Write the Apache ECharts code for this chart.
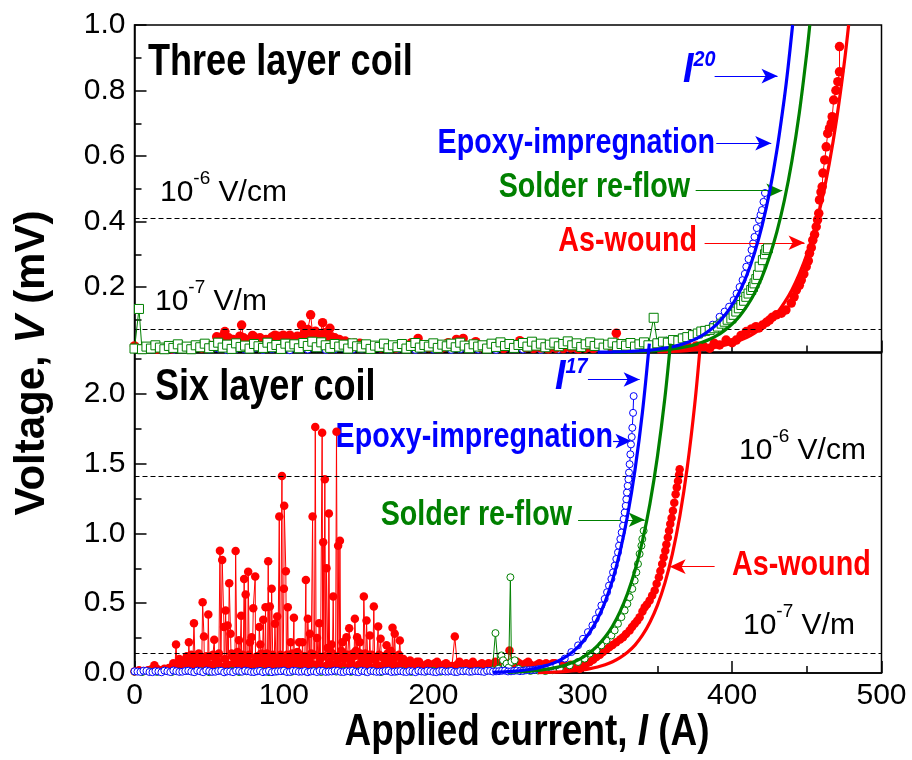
<!DOCTYPE html>
<html>
<head>
<meta charset="utf-8">
<script src="https://cdn.jsdelivr.net/npm/echarts@6/dist/echarts.min.js"></script>
<style>
html,body{margin:0;padding:0;background:#fff}
#chart{width:912px;height:760px}
</style>
</head>
<body>
<div id="chart"></div>
<script>
// ---------- axis ranges ----------
const currentRange = [0, 500];          // applied current, A
const currentStep = 100;
const threeVoltRange = [0, 1.0];        // mV, three layer coil
const threeVoltStep = 0.2;
const sixVoltRange = [0, 2.3];          // mV, six layer coil
const sixVoltStep = 0.5;

// criterion levels (mV): 1e-6 V/cm and 1e-7 V/m
const threeLevels = [0.405, 0.066];
const sixLevels = [1.405, 0.143];

// ---------- three layer coil: measured V-I ----------
const threeAsWoundMain = [
  [0,0.02],[5,0.012],[10,0.015],[15,0.01],[20,0.013],[25,0.011],[30,0.014],[35,0.012],[40,0.015],[45,0.013],
  [50,0.022],[55,0.048],[58,0.03],[60.5,0.064],[61.7,0.038],[64,0.02],[67,0.025],[69.4,0.038],[71.7,0.084],[74,0.03],
  [77,0.02],[80,0.048],[82.8,0.028],[86,0.018],[90,0.022],[94,0.053],[97,0.03],[99.5,0.053],[102,0.035],[104,0.053],
  [107,0.025],[110,0.035],[111.8,0.084],[112.9,0.053],[115,0.04],[117.9,0.115],[119.2,0.059],[122,0.04],[125.9,0.091],[128,0.045],
  [130.8,0.074],[131.9,0.048],[133.5,0.03],[135.3,0.038],[138,0.02],[143,0.03],[146,0.018],[150.8,0.028],[155,0.015],[160,0.02],
  [165,0.014],[170,0.018],[175,0.013],[180,0.02],[185.4,0.03],[189.8,0.043],[193,0.02],[197,0.015],[202,0.018],[206,0.014],
  [210,0.03],[213,0.025],[215.5,0.04],[218,0.035],[220,0.043],[223,0.02],[228.4,0.033],[232,0.015],[237,0.013],[242,0.016],
  [247,0.012],[252,0.02],[257.9,0.036],[262,0.015],[267,0.012],[272,0.014],[277,0.011],[282,0.013],[287,0.012],[292,0.014],
  [297,0.011],[302,0.013],[307,0.012],[312,0.014],[317,0.012],[322.5,0.059],[326,0.013],[331,0.012],[336,0.014],[341,0.013],
  [346,0.015],[351,0.014],[356,0.016],[361,0.015],[366,0.018],[371,0.016],[376,0.02],[381,0.018],[385,0.013],[388,0.028],
  [391.6,0.023],[396,0.038],[400,0.03],[402.8,0.038],[406,0.052],[409.5,0.064],[413,0.072],[416,0.079],[418,0.075],[420.4,0.084],
  [423,0.092],[425,0.099],[427,0.108],[429.6,0.115],[433,0.12],[436,0.13],[439.6,0.151],[441.5,0.17],[443,0.191],[445,0.205],
  [446.3,0.221],[448,0.24],[449.6,0.262],[451,0.28],[451.8,0.303],[453,0.32],[454,0.343],[455.2,0.36],[456.3,0.384],[457.2,0.405],
  [458,0.425],[458.5,0.466],[459.5,0.49],[460.3,0.506],[460.8,0.548],[462,0.588],[463,0.628],[464,0.669],[465.2,0.685],[466.4,0.70],
  [467,0.72],[468,0.771],[469.5,0.8],[470.8,0.827],[471.9,0.857],[471.9,0.934]
];
// extra low-level readings, three layer coil as-wound, 55-150 A
const threeAsWoundNoise = [
  [56.5,0.042],[59,0.05],[63,0.045],[66,0.04],[70.5,0.05],[73,0.045],[76,0.04],[79,0.052],[84,0.045],[88,0.04],
  [92,0.047],[96,0.05],[101,0.045],[106,0.04],[109,0.05],[114,0.06],[116,0.07],[121,0.065],[124,0.05],[127,0.06],
  [129,0.05],[134,0.045],[137,0.04],[141,0.035],[147,0.028]
];
const threeSolder = [
  [0,0.012],[3,0.133],[5,0.01],[8,0.018],[11,0.012],[14,0.022],[17,0.015],[20,0.01],[23,0.02],[26,0.014],
  [29,0.025],[32,0.012],[35,0.018],[38,0.01],[41,0.022],[44,0.016],[47,0.027],[50,0.013],[53,0.02],[56,0.03],
  [59,0.015],[62,0.024],[65,0.011],[68,0.028],[71,0.017],[74,0.021],[77,0.012],[80,0.026],[83,0.019],[86,0.014],
  [89,0.03],[92,0.016],[95,0.023],[98,0.011],[101,0.027],[104,0.018],[107,0.025],[110,0.013],[113,0.029],[116,0.02],
  [119,0.033],[122,0.016],[125,0.031],[128,0.022],[131,0.014],[134,0.026],[137,0.018],[140,0.024],[143,0.012],[146,0.028],
  [149,0.019],[152,0.015],[155,0.025],[158,0.011],[161,0.021],[164,0.017],[167,0.027],[170,0.013],[173,0.022],[176,0.016],
  [179,0.026],[182,0.012],[185,0.02],[188,0.029],[191,0.015],[194,0.023],[197,0.018],[200,0.028],[203,0.014],[206,0.024],
  [209,0.019],[212,0.027],[215,0.016],[218,0.03],[221,0.021],[224,0.013],[227,0.025],[230,0.018],[233,0.022],[236,0.012],
  [239,0.027],[242,0.017],[245,0.031],[248,0.02],[251,0.026],[254,0.014],[257,0.023],[260,0.029],[263,0.018],[266,0.033],
  [269,0.021],[272,0.027],[275,0.016],[278,0.024],[281,0.03],[284,0.019],[287,0.026],[290,0.034],[293,0.022],[296,0.028],
  [299,0.017],[302,0.025],[305,0.031],[308,0.02],[311,0.027],[314,0.015],[317,0.024],[320,0.03],[323,0.019],[326,0.026],
  [329,0.021],[332,0.029],[335,0.018],[338,0.025],[341,0.031],[344,0.022],[347.5,0.106],[350,0.028],[353.7,0.033],[357,0.03],
  [360.4,0.038],[364,0.036],[367,0.043],[370,0.047],[373.8,0.053],[377,0.058],[379.4,0.064],[382,0.066],[385,0.069],[388,0.074],
  [390.5,0.079],[393,0.088],[395,0.094],[397,0.1],[399.5,0.104],[401,0.115],[402.8,0.125],[404.5,0.135],[406.2,0.145],[408,0.158],
  [409.5,0.17],[411,0.18],[412.8,0.191],[414,0.2],[415,0.211],[416.2,0.224],[417.3,0.237],[418.4,0.262],[420.6,0.282],[422,0.3],
  [422.9,0.313],[424,0.318]
];
const threeEpoxy = [
  [0,0.02],[4,0.012],[8,0.018],[14,0.01],[20,0.015],[26,0.008],[32,0.012],[38,0.01],[44,0.014],[50,0.009],
  [56,0.012],[62,0.007],[68,0.011],[74,0.009],[80,0.013],[86,0.008],[92,0.01],[98,0.012],[104,0.007],[110,0.011],
  [116,0.009],[122,0.013],[128,0.008],[134,0.01],[140,0.012],[146,0.009],[152,0.011],[158,0.008],[164,0.012],[170,0.009],
  [176,0.01],[182,0.013],[188,0.008],[194,0.011],[200,0.009],[206,0.012],[212,0.008],[218,0.01],[224,0.012],[230,0.009],
  [236,0.011],[242,0.008],[248,0.012],[254,0.01],[260,0.009],[266,0.012],[272,0.008],[278,0.011],[284,0.009],[290,0.012],
  [296,0.01],[302,0.013],[308,0.011],[314,0.014],[320,0.012],[326,0.016],[332,0.018],[338,0.022],[344,0.026],[350,0.032],
  [356,0.036],[360,0.038],[366,0.046],[371.6,0.048],[377,0.06],[382.7,0.069],[387,0.085],[391.6,0.109],[395,0.125],[398,0.14],
  [401,0.16],[403,0.18],[405,0.2],[407,0.221],[408.5,0.24],[409.5,0.262],[411,0.285],[413,0.313],[414,0.333],[415,0.353],
  [416.5,0.38],[418,0.405],[419,0.42],[420,0.435],[421,0.46],[422,0.487]
];

// ---------- three layer coil: power-law fits (n = 20) ----------
const threeFitAsWound = [
  [350,0.002],[360,0.0034],[370,0.006],[380,0.0102],[385,0.0132],[390,0.0171],[395,0.022],[400,0.0284],[405,0.0364],
  [410,0.0464],[415,0.0593],[420,0.0753],[425,0.0953],[430,0.12],[435,0.152],[440,0.191],[445,0.24],[450,0.299],
  [455,0.373],[460,0.464],[465,0.576],[470,0.714],[475,0.881],[478,1.0]
];
const threeFitSolder = [
  [320,0.001],[330,0.0019],[340,0.0034],[345,0.0045],[350,0.006],[355,0.008],[360,0.0106],[365,0.0139],[370,0.0183],
  [375,0.0239],[380,0.031],[385,0.0404],[390,0.052],[395,0.0675],[400,0.0868],[405,0.111],[410,0.142],[415,0.181],
  [420,0.23],[425,0.292],[430,0.369],[435,0.465],[440,0.584],[445,0.732],[450,0.915],[452,1.0]
];
const threeFitEpoxy = [
  [310,0.0009],[320,0.0017],[330,0.0031],[335,0.0042],[340,0.0056],[345,0.0075],[350,0.01],[355,0.0134],[360,0.0177],
  [365,0.0233],[370,0.0306],[375,0.04],[380,0.052],[385,0.0676],[390,0.0876],[395,0.113],[400,0.145],[405,0.186],
  [410,0.238],[415,0.304],[420,0.386],[425,0.488],[430,0.618],[435,0.778],[437.5,0.872],[440.5,1.0]
];

// ---------- six layer coil: measured V-I ----------
const sixAsWoundPeaks = [
  [0,0.01],[3,0.02],[6,0.015],[9,0.02],[11,0.025],[13.3,0.055],[15,0.03],[17,0.02],[20,0.03],[23,0.035],
  [25.5,0.04],[27.8,0.205],[29,0.06],[31,0.04],[33,0.09],[34.5,0.07],[36.4,0.221],[37.5,0.1],[38.5,0.06],[39.8,0.357],
  [41,0.12],[42.5,0.05],[44,0.1],[45.6,0.507],[46.5,0.262],[47.5,0.08],[49.4,0.419],[50.5,0.12],[51.5,0.06],[53.4,0.238],
  [54.5,0.1],[56,0.07],[57.2,0.876],[58.7,0.81],[59.9,0.329],[61,0.448],[62.3,0.341],[63.4,0.643],[64.3,0.281],[65.5,0.12],
  [66.5,0.07],[67.7,0.874],[69,0.15],[69.9,0.234],[71.4,0.41],[72.3,0.13],[73.4,0.674],[74.4,0.562],[75.2,0.1],[76.1,0.726],
  [77.3,0.221],[78.4,0.257],[79.5,0.464],[80.8,0.691],[82,0.12],[83.5,0.329],[84.2,0.205],[85,0.08],[86.2,0.381],[87.7,0.471],
  [88.6,0.14],[89.5,0.8],[90.6,0.476],[91.8,0.603],[93,0.11],[94,0.353],[95.5,0.405],[96.9,1.121],[97.8,0.13],[98.7,1.412],
  [100,0.603],[100.2,1.198],[101.3,0.729],[102.6,0.471],[103.5,0.1],[104.5,0.221],[105.5,0.14],[106.7,0.396],[108,0.09],[109,0.15],
  [110.2,0.221],[111.3,0.12],[112.5,0.221],[113.5,0.08],[114.7,0.667],[116,0.388],[117.4,0.281],[118.3,0.14],[119.2,1.121],[120,0.06],
  [121,1.762],[122.2,0.25],[123.6,0.357],[124.5,0.1],[125.6,1.721],[126.3,0.936],[127.4,1.389],[128.5,0.75],[129.3,0.18],[130.1,1.143],
  [131.2,0.15],[131.9,0.205],[133,0.548],[134,0.12],[135.2,1.729],[136.3,0.912],[137.5,0.948],[138.4,0.16],[139.2,0.221],[140.5,0.1],
  [141.9,0.257],[142.8,0.13],[143.7,0.321],[145,0.08],[146.2,0.14],[147.5,0.388],[148.2,0.16],[149,0.257],[150.8,0.221],[152,0.11],
  [153.5,0.548],[154.4,0.14],[155.3,0.376],[156.4,0.09],[157.5,0.269],[158.8,0.13],[160.2,0.476],[161.5,0.1],[163.1,0.333],[164.7,0.245],
  [166,0.12],[167.5,0.07],[168.7,0.198],[170,0.11],[171.5,0.16],[172.7,0.324],[174.2,0.281],[175.5,0.12],[177.6,0.233],[179,0.08],
  [181,0.05],[183,0.07],[186,0.04],[189,0.08],[192,0.05],[195,0.06],[198,0.04],[201,0.07],[204,0.05],[207,0.06],
  [210,0.04],[212.5,0.05],[214.4,0.262],[216,0.06],[219,0.04],[222,0.07],[225,0.05],[228,0.04],[231,0.06],[234,0.05],
  [237,0.07],[240,0.05],[243,0.06],[246,0.08],[248.5,0.07],[251,0.162],[253,0.06],[256,0.08],[259,0.05],[262,0.07],
  [265,0.06],[268,0.05],[271,0.07],[274,0.06],[277,0.05],[280,0.07],[283,0.05],[286,0.06],[289,0.045],[292,0.06],
  [295,0.05],[298,0.03],[300.2,0.043],[302,0.06],[304.7,0.079],[307,0.095],[309.2,0.114],[311.5,0.13],[313.6,0.15],[316,0.17],
  [318,0.186],[320,0.2],[322.5,0.221],[325,0.24],[327,0.257],[329,0.28],[331.4,0.305],[333,0.33],[334.8,0.353],[336.5,0.375],
  [338.1,0.4],[340,0.44],[341.5,0.471],[343,0.49],[344.8,0.519],[346.5,0.555],[348.2,0.591],[349.5,0.64],[351,0.686],[352,0.73],
  [353.2,0.781],[354.2,0.83],[355.3,0.876],[356,0.92],[357,0.971],[357.8,1.02],[358.6,1.067],[359.5,1.11],[360.4,1.162],[361.3,1.22],
  [362.2,1.281],[363,1.33],[363.8,1.376],[364.5,1.42],[364.9,1.46]
];
// readings in the noisy band of the as-wound six layer coil
const sixAsWoundBand = [
  [26,0.07],[28.5,0.05],[30,0.1],[32,0.06],[35,0.12],[36,0.05],[38,0.13],[40.5,0.08],[43,0.14],[45,0.06],
  [48,0.12],[50,0.04],[52.5,0.13],[55,0.09],[56.5,0.14],[60.5,0.1],[62.8,0.06],[65,0.14],[66,0.04],[68.5,0.11],
  [70.5,0.06],[72.8,0.1],[74.8,0.05],[76.8,0.13],[78,0.07],[81.5,0.09],[84.8,0.14],[86.8,0.05],[88,0.1],[90,0.07],
  [92.5,0.13],[94.8,0.06],[96,0.1],[99.5,0.08],[102,0.13],[104,0.05],[106,0.1],[107.5,0.04],[110.8,0.13],[112,0.07],
  [114,0.12],[115.5,0.05],[117,0.1],[120.5,0.13],[123,0.06],[126.8,0.12],[128,0.05],[130.6,0.08],[132.5,0.14],[134.6,0.06],
  [137,0.1],[139.8,0.05],[141,0.13],[144.3,0.1],[145.6,0.05],[147,0.12],[150,0.06],[151.3,0.14],[153,0.08],[156,0.13],
  [157,0.05],[159.5,0.1],[162,0.06],[163.8,0.13],[165.5,0.05],[167,0.1],[169.4,0.14],[171,0.06],[173.5,0.1],[176,0.05],
  [177,0.13],[178.3,0.06],[180,0.1],[182,0.04],[184.5,0.09],[187.5,0.05],[190.5,0.08],[193.5,0.04],[196.5,0.07],[199.5,0.05],
  [202.5,0.08],[205.5,0.04],[208.5,0.07],[211,0.05],[217.5,0.08],[220.5,0.05],[223.5,0.06],[226.5,0.08],[229.5,0.05],[232.5,0.07],
  [235.5,0.04],[238.5,0.06],[241.5,0.08],[244.5,0.05],[247,0.06],[249.5,0.04],[254.5,0.05],[257.5,0.07],[260.5,0.05],[263.5,0.08],
  [266.5,0.05],[269.5,0.06],[272.5,0.04],[275.5,0.07],[278.5,0.05],[281.5,0.07],[284.5,0.05],[287.5,0.06],[290.5,0.04],[293.5,0.05],
  [296.5,0.04]
];
const sixAsWoundFloor = [
  [27,0.03],[29.5,0.025],[31.5,0.035],[33.5,0.03],[36.8,0.04],[39,0.03],[41.5,0.035],[44.5,0.04],[46.8,0.03],[49,0.045],
  [51,0.035],[53.8,0.04],[57.8,0.03],[60,0.045],[61.8,0.035],[64.8,0.04],[67.2,0.03],[69.5,0.05],[71.8,0.035],[74,0.04],
  [75.8,0.045],[78.8,0.03],[81,0.04],[83,0.035],[85.5,0.045],[87.2,0.03],[89,0.04],[91.2,0.035],[93.5,0.045],[95.2,0.03],
  [97.3,0.04],[99,0.035],[101.7,0.045],[103,0.03],[105,0.04],[107,0.035],[109.5,0.045],[111.8,0.03],[113,0.04],[115,0.035],
  [117.8,0.045],[119.7,0.03],[121.6,0.04],[124,0.035],[126,0.045],[129.8,0.035],[131.6,0.04],[133.5,0.03],[135.8,0.045],[138,0.035],
  [140,0.04],[142.3,0.03],[144.8,0.045],[146.8,0.035],[149.6,0.04],[152.5,0.03],[154.9,0.045],[158.2,0.035],[160.8,0.04],[163.2,0.03],
  [166.5,0.045],[168.2,0.035],[170.6,0.04],[172.2,0.03],[174.8,0.045],[176.6,0.035],[178.7,0.04]
];
const sixSolder = [
  [0,0.01],[5,0.006],[10,0.012],[15,0.008],[20,0.014],[25,0.007],[30,0.011],[35,0.015],[40,0.008],[45,0.012],
  [50,0.006],[55,0.013],[60,0.009],[65,0.015],[70,0.007],[75,0.012],[80,0.01],[85,0.014],[90,0.006],[95,0.011],
  [100,0.015],[105,0.008],[110,0.013],[115,0.009],[120,0.014],[125,0.007],[130,0.012],[135,0.01],[140,0.015],[145,0.008],
  [150,0.013],[155,0.009],[160,0.012],[165,0.007],[170,0.014],[175,0.01],[180,0.012],[185,0.008],[190,0.013],[195,0.01],
  [200,0.015],[205,0.009],[210,0.012],[215,0.008],[220,0.014],[225,0.011],[230,0.016],[235,0.012],[239.5,0.02],[241.6,0.286],
  [243.5,0.03],[245.6,0.126],[246.7,0.091],[248,0.05],[249,0.067],[250.5,0.04],[251.6,0.686],[252.3,0.079],[254.5,0.091],[257,0.03],
  [261,0.02],[265,0.015],[270,0.018],[275,0.014],[280,0.02],[284.6,0.031],[291.3,0.055],[296.9,0.079],[301.3,0.103],[304.7,0.139],
  [309.2,0.162],[312.5,0.198],[315.9,0.233],[319.2,0.269],[321.4,0.305],[323.6,0.353],[325.9,0.4],[328.1,0.448],[329.9,0.496],[331.4,0.543],
  [333.2,0.603],[334.8,0.662],[335.9,0.721],[337,0.781],[338.1,0.853],[339.3,0.912],[339.9,0.96],[340.8,1.019]
];
const sixEpoxyRise = [
  [0,0.012],[4,0.008],[8,0.015],[12,0.006],[16,0.011],[20,0.017],[24,0.007],[28,0.013],[32,0.009],[36,0.016],
  [40,0.006],[44,0.012],[48,0.018],[52,0.008],[56,0.014],[60,0.005],[64,0.011],[68,0.016],[72,0.009],[76,0.013],
  [80,0.007],[84,0.015],[88,0.01],[92,0.006],[96,0.012],[100,0.017],[104,0.008],[108,0.014],[112,0.01],[116,0.006],
  [120,0.013],[124,0.016],[128,0.008],[132,0.011],[136,0.015],[140,0.007],[144,0.012],[148,0.009],[152,0.016],[156,0.006],
  [160,0.013],[164,0.01],[168,0.015],[172,0.007],[176,0.012],[180,0.009],[184,0.014],[188,0.006],[192,0.011],[196,0.016],
  [200,0.008],[204,0.013],[208,0.01],[212,0.015],[216,0.007],[220,0.012],[224,0.009],[228,0.014],[232,0.011],[236,0.016],
  [240,0.01],[244,0.013],[248,0.017],[252,0.012],[256,0.018],[260,0.015],[264,0.02],[268,0.024],[272,0.03],[276,0.038],
  [279,0.046],[282.4,0.055],[288,0.103],[292.4,0.15],[296.9,0.198],[300.2,0.245],[303.5,0.293],[306.5,0.341],[308.7,0.388],[310.9,0.436],
  [312.5,0.484],[314.7,0.531],[316.3,0.579],[317.6,0.626],[319.2,0.674],[320.3,0.721],[321.4,0.769],[322.5,0.817],[323.6,0.864],[324.3,0.912],
  [325.2,0.96],[326.1,1.007],[327,1.055],[327.4,1.103],[328.1,1.15],[328.8,1.198],[329.2,1.245],[329.6,1.293],[330.1,1.341],[330.6,1.388],
  [331,1.436],[331.4,1.496],[331.9,1.567],[332.3,1.638],[332.8,1.691],[333.2,1.757],[333.7,1.864],[334.1,1.984]
];
// intermediate readings in the baseline of the epoxy-impregnated six layer coil
const sixEpoxyBase = [
  [2,0.01],[6,0.016],[10,0.007],[14,0.013],[18,0.005],[22,0.012],[26,0.018],[30,0.008],[34,0.014],[38,0.01],
  [42,0.017],[46,0.006],[50,0.013],[54,0.009],[58,0.016],[62,0.011],[66,0.006],[70,0.014],[74,0.017],[78,0.008],
  [82,0.012],[86,0.006],[90,0.015],[94,0.01],[98,0.013],[102,0.007],[106,0.016],[110,0.009],[114,0.014],[118,0.011],
  [122,0.007],[126,0.015],[130,0.01],[134,0.017],[138,0.008],[142,0.013],[146,0.016],[150,0.006],[154,0.012],[158,0.015],
  [162,0.008],[166,0.011],[170,0.016],[174,0.01],[178,0.014],[182,0.007],[186,0.012],[190,0.016],[194,0.009],[198,0.013],
  [202,0.006],[206,0.015],[210,0.011],[214,0.008],[218,0.014],[222,0.016],[226,0.01],[230,0.013],[234,0.008],[238,0.015],
  [242,0.012],[246,0.016],[250,0.011],[254,0.015],[258,0.013],[262,0.019],[266,0.021],[270,0.027],[274,0.034]
];

// ---------- six layer coil: power-law fits ----------
const sixFitAsWound = [
  [270,0.0027],[280,0.0056],[285,0.008],[290,0.0113],[295,0.0159],[300,0.0222],[305,0.031],[310,0.0429],[315,0.0589],
  [320,0.0808],[325,0.11],[330,0.149],[335,0.2],[340,0.271],[345,0.364],[350,0.485],[355,0.644],[360,0.852],
  [365,1.123],[370,1.474],[375,1.926],[378.8,2.36]
];
const sixFitSolder = [
  [250,0.0051],[260,0.0099],[265,0.0137],[270,0.0188],[275,0.0257],[280,0.035],[285,0.0471],[290,0.0634],[295,0.0847],
  [300,0.1127],[305,0.149],[310,0.197],[315,0.258],[320,0.337],[325,0.44],[330,0.57],[335,0.735],[340,0.947],
  [345,1.213],[350,1.55],[355,1.97],[358.7,2.36]
];
const sixFitEpoxy = [
  [240,0.005],[250,0.01],[255,0.0141],[260,0.0196],[265,0.027],[270,0.037],[275,0.0508],[280,0.0689],[285,0.0932],
  [290,0.125],[295,0.167],[300,0.223],[305,0.296],[310,0.389],[315,0.51],[320,0.667],[325,0.87],[330,1.127],
  [335,1.454],[340,1.87],[344.6,2.36]
];

// ---------- annotation arrows (data coordinates: [from, to]) ----------
const threeArrows = {
  exponent: [[388.3,0.844],[430.4,0.844]],
  epoxy:    [[389.4,0.639],[426.2,0.639]],
  solder:   [[375.6,0.494],[433.6,0.494]],
  asWound:  [[381.6,0.335],[448.5,0.335]]
};
const sixArrows = {
  exponent: [[303.5,2.103],[338.1,2.103]],
  epoxy:    [[320.3,1.662],[332.6,1.662]],
  solder:   [[296.9,1.098],[341.5,1.098]],
  asWound:  [[388.3,0.762],[358.2,0.762]]
};

// ---------- styling ----------
const RED = '#ff0000', GREEN = '#008000', BLUE = '#0000ff';
const SANS = "'Liberation Sans', Arial, sans-serif";
const AXIS_COLOR = '#000';
const CONDENSE = 0.82;   // horizontal squeeze for the heavy captions

const byCurrent = (a, b) => a[0] - b[0];
const threeAsWound = threeAsWoundMain.concat(threeAsWoundNoise).sort(byCurrent);
const sixAsWound = sixAsWoundPeaks.concat(sixAsWoundBand, sixAsWoundFloor).sort(byCurrent);
const sixEpoxy = sixEpoxyRise.concat(sixEpoxyBase).sort(byCurrent);

function axisCommon() {
  return {
    type: 'value',
    axisLine: { show: true, lineStyle: { color: AXIS_COLOR, width: 1.5 } },
    axisTick: { show: true, inside: true, length: 12, lineStyle: { color: AXIS_COLOR, width: 1.5 } },
    minorTick: { show: true, splitNumber: 2, length: 7, lineStyle: { color: AXIS_COLOR, width: 1.5 } },
    splitLine: { show: false },
    minorSplitLine: { show: false }
  };
}

function measured(name, data, gi, color, symbol, size, filled, z) {
  return {
    name, type: 'line', xAxisIndex: gi, yAxisIndex: gi, data,
    symbol, symbolSize: size, showSymbol: true, showAllSymbol: true,
    itemStyle: filled ? { color } : { color: '#fff', borderColor: color, borderWidth: 1 },
    lineStyle: { color, width: 1 },
    z, silent: true, emphasis: { disabled: true }, animation: false
  };
}

function fit(name, data, gi, color, clip) {
  return {
    name, type: 'line', xAxisIndex: gi, yAxisIndex: gi, data,
    symbol: 'none', smooth: 0.35, clip,
    lineStyle: { color, width: 3.2 },
    z: 10, silent: true, emphasis: { disabled: true }, animation: false
  };
}

function arrowMarks(pairs) {
  return pairs.map(([seg, color]) => [
    { coord: seg[0], lineStyle: { color, width: 1.2, type: 'solid' } },
    { coord: seg[1] }
  ]);
}

function levelMarks(levels) {
  return {
    silent: true, symbol: ['none', 'none'], animation: false,
    label: { show: false },
    lineStyle: { color: '#000', width: 1, type: [5, 3] },
    emphasis: { disabled: true },
    data: levels.map(v => ({ yAxis: v }))
  };
}

function arrowSet(pairs) {
  return {
    silent: true, animation: false,
    symbol: ['none', 'arrow'], symbolSize: [11, 16],
    label: { show: false },
    emphasis: { disabled: true },
    data: arrowMarks(pairs)
  };
}

const s3Red = measured('As-wound', threeAsWound, 0, RED, 'circle', 9.5, true, 4);
const s3Green = measured('Solder re-flow', threeSolder, 0, GREEN, 'rect', 9, false, 5);
const s3Blue = measured('Epoxy-impregnation', threeEpoxy, 0, BLUE, 'circle', 7, false, 3);
s3Blue.markLine = levelMarks(threeLevels);
s3Red.markLine = arrowSet([
  [threeArrows.exponent, BLUE], [threeArrows.epoxy, BLUE],
  [threeArrows.solder, GREEN], [threeArrows.asWound, RED]
]);

const s6Red = measured('As-wound', sixAsWound, 1, RED, 'circle', 8.5, true, 3);
const s6Green = measured('Solder re-flow', sixSolder, 1, GREEN, 'circle', 7, false, 4);
const s6Blue = measured('Epoxy-impregnation', sixEpoxy, 1, BLUE, 'circle', 7, false, 5);
s6Blue.markLine = levelMarks(sixLevels);
s6Red.markLine = arrowSet([
  [sixArrows.exponent, BLUE], [sixArrows.epoxy, BLUE],
  [sixArrows.solder, GREEN], [sixArrows.asWound, RED]
]);

// ---------- text ----------
function caption(x, y, text, color, align, size) {
  return {
    type: 'text', x, y, scaleX: CONDENSE, silent: true,
    style: {
      text, fill: color, font: 'bold ' + size + 'px ' + SANS,
      align, textAlign: align, verticalAlign: 'middle', textVerticalAlign: 'middle'
    }
  };
}
function fieldLabel(x, y, exp, unit) {
  return {
    type: 'text', x, y, silent: true,
    style: {
      text: '{a|10}{s|' + exp + '}{a| ' + unit + '}',
      align: 'left', textAlign: 'left', verticalAlign: 'middle', textVerticalAlign: 'middle',
      rich: {
        a: { font: '30px ' + SANS, fill: '#000', lineHeight: 47 },
        s: { font: '19px ' + SANS, fill: '#000', lineHeight: 19, verticalAlign: 'top' }
      }
    }
  };
}
function powerLabel(x, y, exp) {
  return {
    type: 'text', x, y, silent: true, scaleX: 0.9,
    style: {
      text: '{a|I}{s|' + exp + '}',
      align: 'left', textAlign: 'left', verticalAlign: 'middle', textVerticalAlign: 'middle',
      rich: {
        a: { font: 'italic bold 42px ' + SANS, fill: BLUE, lineHeight: 42 },
        s: { font: 'italic bold 22px ' + SANS, fill: BLUE, lineHeight: 21, verticalAlign: 'top' }
      }
    }
  };
}

const chart = echarts.init(document.getElementById('chart'), null, { renderer: 'canvas' });
chart.setOption({
  animation: false,
  backgroundColor: '#fff',
  grid: [
    { left: 134.5, top: 25, width: 747, height: 327.5, show: true, borderColor: AXIS_COLOR, borderWidth: 1.5, containLabel: false },
    { left: 134.5, top: 352, width: 747, height: 321, show: true, borderColor: AXIS_COLOR, borderWidth: 1.5, containLabel: false }
  ],
  xAxis: [
    Object.assign(axisCommon(), {
      gridIndex: 0, min: currentRange[0], max: currentRange[1], interval: currentStep,
      axisLabel: { show: false }
    }),
    Object.assign(axisCommon(), {
      gridIndex: 1, min: currentRange[0], max: currentRange[1], interval: currentStep,
      axisLabel: { show: true, color: '#000', fontFamily: SANS, fontSize: 30, margin: 8 }
    })
  ],
  yAxis: [
    Object.assign(axisCommon(), {
      gridIndex: 0, min: threeVoltRange[0], max: threeVoltRange[1], interval: threeVoltStep,
      axisLabel: {
        color: '#000', fontFamily: SANS, fontSize: 30, margin: 9,
        formatter: v => (v === 0 ? '' : v.toFixed(1))
      }
    }),
    Object.assign(axisCommon(), {
      gridIndex: 1, min: sixVoltRange[0], max: sixVoltRange[1], interval: sixVoltStep,
      axisLabel: {
        color: '#000', fontFamily: SANS, fontSize: 30, margin: 9, showMaxLabel: false,
        formatter: v => (Math.abs(v * 2 - Math.round(v * 2)) < 1e-6 ? v.toFixed(1) : '')
      }
    })
  ],
  series: [
    s3Blue, s3Red, s3Green,
    fit('As-wound fit', threeFitAsWound, 0, RED, true),
    fit('Solder re-flow fit', threeFitSolder, 0, GREEN, true),
    fit('Epoxy-impregnation fit', threeFitEpoxy, 0, BLUE, true),
    s6Red, s6Green, s6Blue,
    fit('As-wound fit', sixFitAsWound, 1, RED, false),
    fit('Solder re-flow fit', sixFitSolder, 1, GREEN, false),
    fit('Epoxy-impregnation fit', sixFitEpoxy, 1, BLUE, false)
  ],
  graphic: [
    // panel titles
    caption(148, 63, 'Three layer coil', '#000', 'left', 44),
    caption(155, 388, 'Six layer coil', '#000', 'left', 44),
    // criterion captions
    fieldLabel(160, 193, '-6', 'V/cm'),
    fieldLabel(155, 302, '-7', 'V/m'),
    fieldLabel(739, 451, '-6', 'V/cm'),
    fieldLabel(743, 626, '-7', 'V/m'),
    // series captions, three layer coil
    powerLabel(683, 70, '20'),
    caption(715, 143.5, 'Epoxy-impregnation', BLUE, 'right', 35),
    caption(690, 187, 'Solder re-flow', GREEN, 'right', 35),
    caption(697, 241, 'As-wound', RED, 'right', 35),
    // series captions, six layer coil
    powerLabel(555, 377, '17'),
    caption(613, 437, 'Epoxy-impregnation', BLUE, 'right', 35),
    caption(572, 515, 'Solder re-flow', GREEN, 'right', 35),
    caption(732, 565, 'As-wound', RED, 'left', 35),
    // axis titles
    {
      type: 'text', x: 32, y: 363, rotation: Math.PI / 2, silent: true,
      style: {
        text: '{b|Voltage, }{i|V}{b| (mV)}',
        align: 'center', textAlign: 'center', verticalAlign: 'middle', textVerticalAlign: 'middle',
        rich: {
          b: { font: 'bold 42px ' + SANS, fill: '#000' },
          i: { font: 'italic bold 42px ' + SANS, fill: '#000' }
        }
      }
    },
    {
      type: 'text', x: 527, y: 733, scaleX: CONDENSE, silent: true,
      style: {
        text: '{b|Applied current, }{i|I}{b| (A)}',
        align: 'center', textAlign: 'center', verticalAlign: 'middle', textVerticalAlign: 'middle',
        rich: {
          b: { font: 'bold 45px ' + SANS, fill: '#000' },
          i: { font: 'italic bold 45px ' + SANS, fill: '#000' }
        }
      }
    }
  ]
});
</script>
</body>
</html>
